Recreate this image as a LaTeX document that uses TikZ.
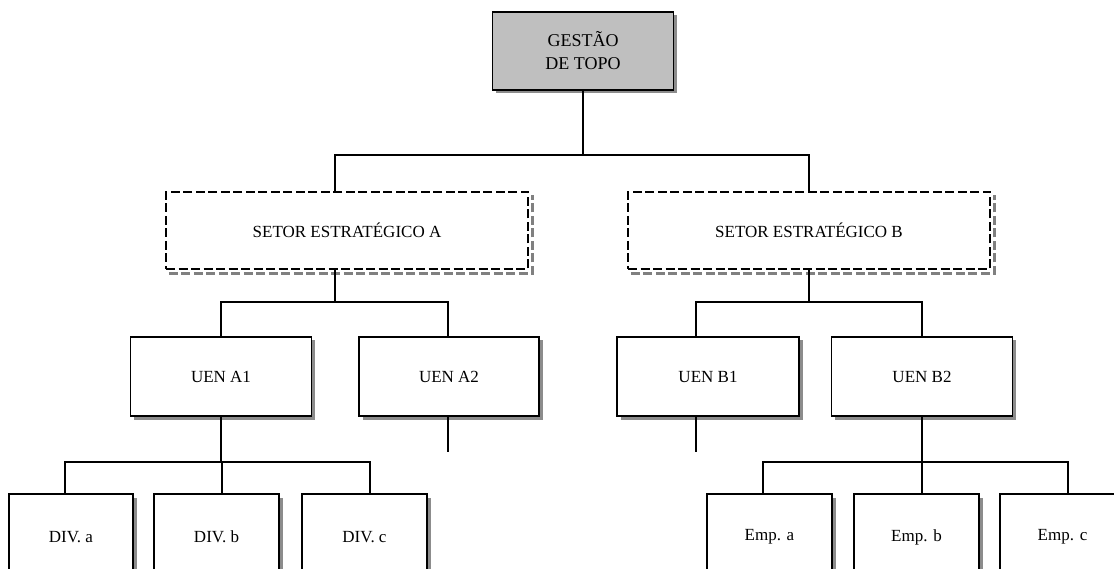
\documentclass[tikz,border=0pt]{standalone}
\usepackage{fontspec}
\setmainfont{Liberation Serif}
\usetikzlibrary{shadows}
\begin{document}
\begin{tikzpicture}[x=1pt,y=-1pt,
  conn/.style={draw=black, line width=1.7pt},
  boxbase/.style={inner sep=0pt, align=center, font=\fontsize{17}{21}\selectfont},
  solidbox/.style={boxbase, draw=black, line width=1.7pt, fill=white,
    drop shadow={shadow xshift=3.5pt, shadow yshift=-3.5pt, fill=black!45, opacity=1}},
  topbox/.style={solidbox, fill=black!25, font=\fontsize{18}{23}\selectfont},
  sectorbox/.style={boxbase, draw=black, line width=2.2pt, fill=white, dash pattern=on 9pt off 3.5pt},
  sectorshadow/.style={draw=black!50, line width=2.5pt, dash pattern=on 9pt off 3.5pt},
]
% page
\useasboundingbox (0,0) rectangle (1114,569);
\fill[white] (0,0) rectangle (1114,569);
\clip (0,0) rectangle (1114,569);

% top level
\node[topbox, minimum width=181pt, minimum height=78pt] (top) at (583,51) {GESTÃO\\DE TOPO};

% strategic sectors
\node[sectorbox, minimum width=362pt, minimum height=77pt] (setA) at (347,230.5) {SETOR ESTRATÉGICO A};
\node[sectorbox, minimum width=362pt, minimum height=77pt] (setB) at (809,230.5) {SETOR ESTRATÉGICO B};
\foreach \s in {setA,setB}{
  \draw[sectorshadow] ([shift={(4,3.5)}]\s.south west) -- ([shift={(3.5,3.5)}]\s.south east)
    -- ([shift={(3.5,4)}]\s.north east);
}

% business units
\node[solidbox, minimum width=181pt, minimum height=79pt] (uA1) at (221,376.5) {UEN A1};
\node[solidbox, minimum width=180pt, minimum height=79pt] (uA2) at (449,376.5) {UEN A2};
\node[solidbox, minimum width=182pt, minimum height=79pt] (uB1) at (708,376.5) {UEN B1};
\node[solidbox, minimum width=181pt, minimum height=79pt] (uB2) at (922,376.5) {UEN B2};

% divisions and companies
\node[solidbox, minimum width=124pt, minimum height=86pt] (divA) at (71,537) {DIV. a};
\node[solidbox, minimum width=125pt, minimum height=86pt] (divB) at (216.5,537) {DIV. b};
\node[solidbox, minimum width=125pt, minimum height=86pt] (divC) at (364.5,537) {DIV. c};
\node[solidbox, minimum width=125pt, minimum height=86pt] (empA) at (769.5,537) {Emp. a};
\node[solidbox, minimum width=125pt, minimum height=86pt] (empB) at (916.5,537) {Emp. b};
\node[solidbox, minimum width=125pt, minimum height=86pt] (empC) at (1062.5,537) {Emp. c};

% connectors: top to sectors
\draw[conn] (top.south) -- (top.south |- 0,155);
\draw[conn] ([xshift=-12pt]setA.north) |- (setB.north |- 0,155) -- (setB.north);

% sector A to its units
\draw[conn] ([xshift=-12pt]setA.south) -- ([xshift=-12pt]setA.south |- 0,302);
\draw[conn] (uA1.north) |- ([xshift=-1pt]uA2.north |- 0,302) -- ([xshift=-1pt]uA2.north);

% sector B to its units
\draw[conn] (setB.south) -- (setB.south |- 0,302);
\draw[conn] ([xshift=-12pt]uB1.north) |- (uB2.north |- 0,302) -- (uB2.north);

% open ends below UEN A2 and UEN B1
\coordinate (endA2) at (448,452);
\coordinate (endB1) at (696,452);
\draw[conn] ([xshift=-1pt]uA2.south) -- (endA2);
\draw[conn] ([xshift=-12pt]uB1.south) -- (endB1);

% UEN A1 to divisions
\draw[conn] (uA1.south) -- (uA1.south |- 0,462);
\draw[conn] ([xshift=-6pt]divA.north) |- ([xshift=5.5pt]divC.north |- 0,462) -- ([xshift=5.5pt]divC.north);
\draw[conn] ([xshift=5.5pt]divB.north) -- ([xshift=5.5pt]divB.north |- 0,462);

% UEN B2 to companies
\draw[conn] (uB2.south) -- (uB2.south |- 0,462);
\draw[conn] ([xshift=-6.5pt]empA.north) |- ([xshift=5.5pt]empC.north |- 0,462) -- ([xshift=5.5pt]empC.north);
\draw[conn] ([xshift=5.5pt]empB.north) -- ([xshift=5.5pt]empB.north |- 0,462);
\end{tikzpicture}
\end{document}
